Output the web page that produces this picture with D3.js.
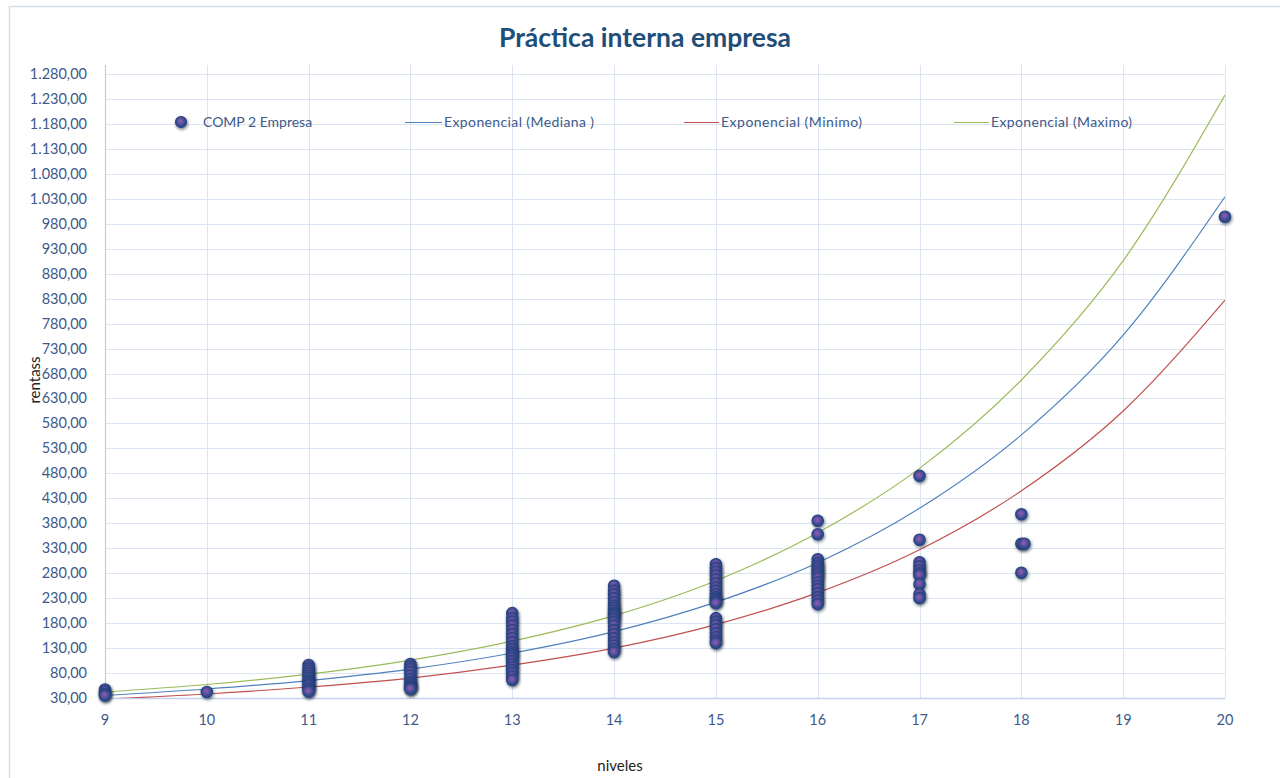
<!DOCTYPE html>
<html>
<head>
<meta charset="utf-8">
<script src="https://cdn.jsdelivr.net/npm/d3@7"></script>
<style>
  body { margin: 0; background: #fff; }
  text { font-family: Lato, "Noto Sans", sans-serif; }
</style>
</head>
<body>
<div id="chart"></div>
<script>

// ========================================================
// data
var niveles = [9, 10, 11, 12, 13, 14, 15, 16, 17, 18, 20];
var rentasPorNivel = [
  [47, 43, 38, 35],
  [42],
  [96, 90, 85, 80, 75, 70, 65, 62, 58, 55, 50, 46, 43],
  [98, 93, 88, 82, 75, 68, 62, 58, 55, 52, 50, 48],
  [200, 190, 183, 175, 166, 158, 150, 142, 134, 128, 122, 118, 115, 110, 104, 98, 92, 86, 80, 73, 66],
  [255, 245, 238, 230, 222, 215, 210, 205, 200, 197, 193, 188, 182, 175, 166, 158, 150, 142, 135, 128, 122],
  [298, 290, 283, 276, 268, 260, 252, 245, 238, 232, 228, 224, 220, 190, 183, 176, 168, 160, 152, 145, 140],
  [385, 358, 308, 300, 295, 290, 285, 280, 275, 270, 262, 255, 248, 240, 232, 225, 218],
  [475, 347, 302, 294, 286, 280, 276, 258, 238, 230],
  [398, 339, 281],
  [994]
];

// trend lines, values read at each nivel
var trendNiveles = [9, 10, 11, 12, 13, 14, 15, 16, 17, 18, 19, 20];
var medianaValues = [35, 48, 65, 88, 120, 163, 222, 301, 410, 557, 757, 1034];
var minimoValues = [28, 38, 52, 70, 96, 130, 177, 241, 327, 445, 605, 827];
var maximoValues = [42, 57, 78, 106, 144, 195, 265, 361, 490, 667, 906, 1238];

var yTickValues = d3.range(30, 1281, 50);
var xTickValues = d3.range(9, 21, 1);

var legendLabels = ['COMP 2 Empresa', 'Exponencial (Mediana )', 'Exponencial (Minimo)', 'Exponencial (Maximo)'];


function practicaChart() {

  var width = 1280, height = 778;
  var plot = { left: 105, right: 1225, top: 65, bottom: 698 };

  var svg = d3.select('#chart').append('svg')
    .attr('width', width)
    .attr('height', height);

  var x = d3.scaleLinear().domain([9, 20]).range([plot.left, plot.right]);
  var y = d3.scaleLinear().domain([30, 1298]).range([plot.bottom, plot.top]);

  this.render = function () {

    var defs = svg.append('defs');

    // marker look: purple centre, navy rim, soft shadow
    var grad = defs.append('radialGradient').attr('id', 'dotFill')
      .attr('cx', '45%').attr('cy', '42%').attr('r', '55%');
    grad.append('stop').attr('offset', '0%').attr('stop-color', '#8462b8');
    grad.append('stop').attr('offset', '45%').attr('stop-color', '#6b4e9f');
    grad.append('stop').attr('offset', '75%').attr('stop-color', '#344e8e');
    grad.append('stop').attr('offset', '100%').attr('stop-color', '#2a4686');

    var shadow = defs.append('filter').attr('id', 'dotShadow')
      .attr('x', '-60%').attr('y', '-60%').attr('width', '220%').attr('height', '220%');
    shadow.append('feDropShadow').attr('dx', 0.8).attr('dy', 1.5)
      .attr('stdDeviation', 1.8).attr('flood-color', '#111a2e').attr('flood-opacity', 0.6);

    defs.append('clipPath').attr('id', 'plotClip')
      .append('rect')
      .attr('x', plot.left).attr('y', plot.top)
      .attr('width', plot.right - plot.left).attr('height', plot.bottom - plot.top);

    // ========================================================
    // chart frame
    svg.append('rect')
      .attr('x', 9.5).attr('y', 6.5)
      .attr('width', width).attr('height', height)
      .attr('fill', '#fff').attr('stroke', '#d6e0ee').attr('stroke-width', 1.5);

    // ========================================================
    // gridlines
    svg.append('g').selectAll('line').data(yTickValues).enter().append('line')
      .attr('x1', plot.left).attr('x2', plot.right)
      .attr('y1', function (d) { return Math.round(y(d)) + 0.5; })
      .attr('y2', function (d) { return Math.round(y(d)) + 0.5; })
      .attr('stroke', '#dce5f2').attr('stroke-width', 1);

    svg.append('g').selectAll('line').data(xTickValues).enter().append('line')
      .attr('x1', function (d) { return Math.round(x(d)) + 0.5; })
      .attr('x2', function (d) { return Math.round(x(d)) + 0.5; })
      .attr('y1', plot.top).attr('y2', plot.bottom)
      .attr('stroke', '#dce5f2').attr('stroke-width', 1);

    // axis lines
    svg.append('line')
      .attr('x1', plot.left + 0.5).attr('x2', plot.left + 0.5)
      .attr('y1', plot.top).attr('y2', plot.bottom)
      .attr('stroke', '#b9cbe6').attr('stroke-width', 1.2);
    svg.append('line')
      .attr('x1', plot.left).attr('x2', plot.right)
      .attr('y1', plot.bottom + 0.5).attr('y2', plot.bottom + 0.5)
      .attr('stroke', '#c3d2ea').attr('stroke-width', 1.5);

    // ========================================================
    // tick labels
    var fmt = d3.formatLocale({ decimal: ',', thousands: '.', grouping: [3], currency: ['', ''] }).format(',.2f');

    svg.append('g').selectAll('text').data(yTickValues).enter().append('text')
      .attr('x', 87)
      .attr('y', function (d) { return y(d) + 5; })
      .attr('text-anchor', 'end')
      .attr('font-size', 14.5)
      .attr('fill', '#3d5a8a')
      .text(function (d) { return fmt(d); });

    svg.append('g').selectAll('text').data(xTickValues).enter().append('text')
      .attr('x', function (d) { return x(d); })
      .attr('y', 725)
      .attr('text-anchor', 'middle')
      .attr('font-size', 14.5)
      .attr('fill', '#3d5a8a')
      .text(function (d) { return d; });

    // ========================================================
    // titles
    svg.append('text')
      .attr('x', 645).attr('y', 47)
      .attr('text-anchor', 'middle')
      .attr('font-size', 26.5).attr('font-weight', 'bold')
      .attr('fill', '#1f4e79')
      .text('Práctica interna empresa');

    svg.append('text')
      .attr('transform', 'translate(40,380) rotate(-90)')
      .attr('text-anchor', 'middle')
      .attr('font-size', 15).attr('fill', '#222')
      .text('rentass');

    svg.append('text')
      .attr('x', 620).attr('y', 771)
      .attr('text-anchor', 'middle')
      .attr('font-size', 15).attr('fill', '#222')
      .text('niveles');

    // ========================================================
    // trend lines
    var trends = [
      { values: medianaValues, color: '#4f81bd' },
      { values: minimoValues, color: '#c0504d' },
      { values: maximoValues, color: '#9bbb59' }
    ];
    var line = d3.line()
      .x(function (d, i) { return x(trendNiveles[i]); })
      .y(function (d) { return y(d); })
      .curve(d3.curveMonotoneX);

    svg.append('g').attr('clip-path', 'url(#plotClip)')
      .selectAll('path').data(trends).enter().append('path')
      .attr('d', function (t) { return line(t.values); })
      .attr('fill', 'none')
      .attr('stroke', function (t) { return t.color; })
      .attr('stroke-width', 1.2);

    // ========================================================
    // points
    var points = [];
    niveles.forEach(function (n, i) {
      rentasPorNivel[i].forEach(function (v) { points.push({ n: n, v: v }); });
    });
    // the doubled point at nivel 18
    points.push({ n: 18.03, v: 339 });

    svg.append('g').selectAll('circle').data(points).enter().append('circle')
      .attr('cx', function (d) { return x(d.n); })
      .attr('cy', function (d) { return y(d.v); })
      .attr('r', 5.6)
      .attr('fill', 'url(#dotFill)')
      .attr('stroke', '#2a4686').attr('stroke-width', 1.4)
      .attr('filter', 'url(#dotShadow)');

    // ========================================================
    // legend
    var legend = svg.append('g');
    legend.append('circle')
      .attr('cx', 181).attr('cy', 122).attr('r', 5.4)
      .attr('fill', 'url(#dotFill)')
      .attr('stroke', '#2a4686').attr('stroke-width', 1.4)
      .attr('filter', 'url(#dotShadow)');
    legend.append('text').attr('x', 203).attr('y', 127)
      .attr('font-size', 14).attr('fill', '#3d5a8a').text(legendLabels[0]);

    var legendLines = [
      { x1: 405, x2: 442, tx: 444, color: '#4f81bd' },
      { x1: 684, x2: 719, tx: 721, color: '#c0504d' },
      { x1: 954, x2: 989, tx: 991, color: '#9bbb59' }
    ];
    legendLines.forEach(function (l, i) {
      legend.append('line')
        .attr('x1', l.x1).attr('x2', l.x2)
        .attr('y1', 122.5).attr('y2', 122.5)
        .attr('stroke', l.color).attr('stroke-width', 1.2);
      legend.append('text').attr('x', l.tx).attr('y', 127)
        .attr('font-size', 14).attr('fill', '#3d5a8a')
        .attr('textLength', i === 0 ? 150 : 141)
        .text(legendLabels[i + 1]);
    });
  };

}


var __practica = new practicaChart();
__practica.render();

</script>
</body>
</html>
